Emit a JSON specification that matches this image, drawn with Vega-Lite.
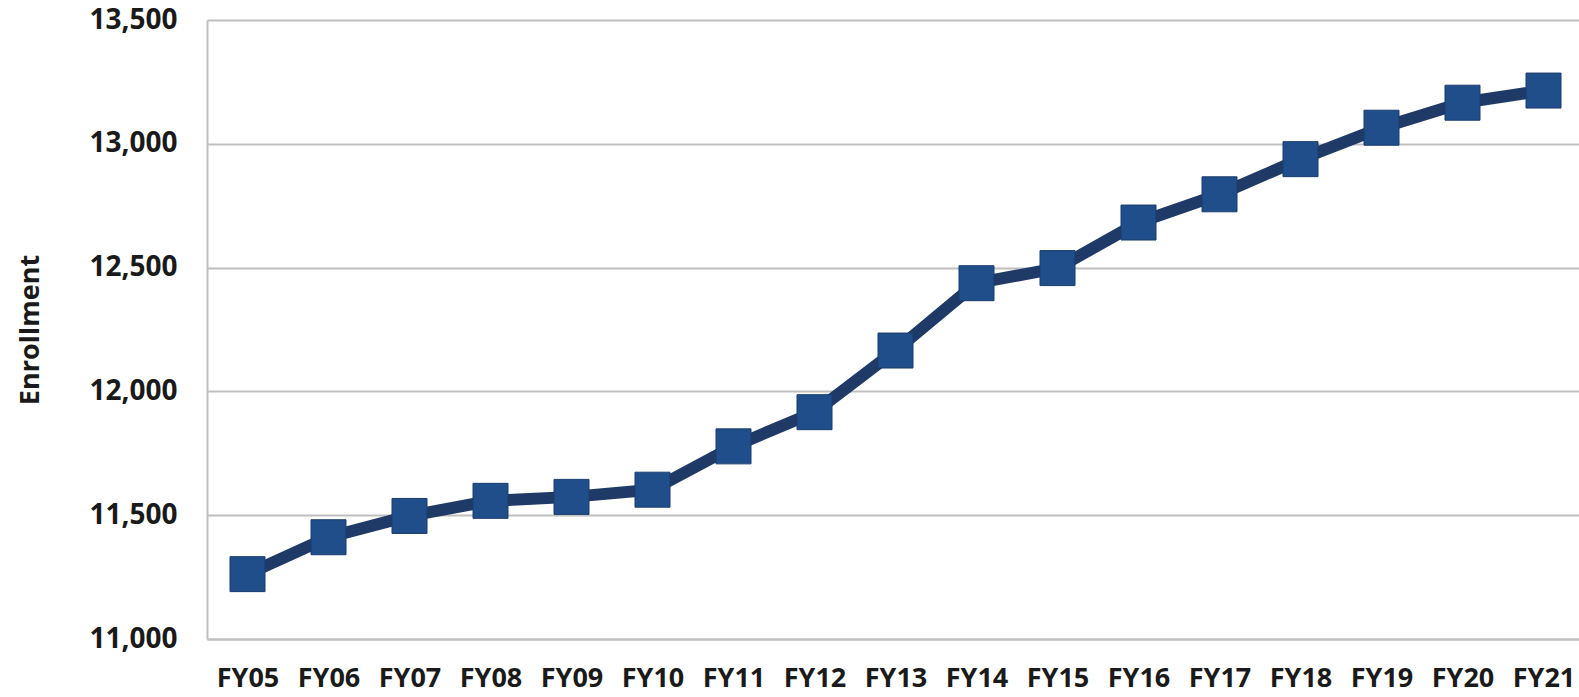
{
  "$schema": "https://vega.github.io/schema/vega-lite/v6.json",
  "autosize": {"type": "none"},
  "width": 1372,
  "height": 619,
  "padding": {"left": 207, "top": 20, "right": 0, "bottom": 58},
  "background": "white",
  "config": {
    "view": {"stroke": null},
    "font": "Open Sans"
  },
  "data": {
    "values": [
      {"year": "FY05", "enrollment": 11262},
      {"year": "FY06", "enrollment": 11411},
      {"year": "FY07", "enrollment": 11497},
      {"year": "FY08", "enrollment": 11558},
      {"year": "FY09", "enrollment": 11574},
      {"year": "FY10", "enrollment": 11603},
      {"year": "FY11", "enrollment": 11778},
      {"year": "FY12", "enrollment": 11916},
      {"year": "FY13", "enrollment": 12165},
      {"year": "FY14", "enrollment": 12437},
      {"year": "FY15", "enrollment": 12498},
      {"year": "FY16", "enrollment": 12682},
      {"year": "FY17", "enrollment": 12796},
      {"year": "FY18", "enrollment": 12938},
      {"year": "FY19", "enrollment": 13065},
      {"year": "FY20", "enrollment": 13166},
      {"year": "FY21", "enrollment": 13215}
    ]
  },
  "encoding": {
    "x": {
      "field": "year",
      "type": "ordinal",
      "scale": {"paddingInner": 0, "paddingOuter": 0, "range": [0, 1377]},
      "axis": {
        "title": null,
        "labelAngle": 0,
        "labelFont": "Open Sans",
        "labelFontWeight": "bold",
        "labelFontSize": 27,
        "labelColor": "#1a1a1a",
        "labelPadding": 26,
        "ticks": false,
        "domain": true,
        "domainColor": "#BFBFBF",
        "domainWidth": 2,
        "grid": false
      }
    },
    "y": {
      "field": "enrollment",
      "type": "quantitative",
      "scale": {"domain": [11000, 13500], "nice": false, "zero": false},
      "axis": {
        "title": "Enrollment",
        "titleFont": "Open Sans",
        "titleFontWeight": "bold",
        "titleFontSize": 27,
        "titleColor": "#1a1a1a",
        "titlePadding": 44,
        "values": [11000, 11500, 12000, 12500, 13000, 13500],
        "format": ",d",
        "labelFont": "Open Sans",
        "labelFontWeight": "bold",
        "labelFontSize": 28,
        "labelColor": "#1a1a1a",
        "labelPadding": 30,
        "ticks": false,
        "domain": true,
        "domainColor": "#BFBFBF",
        "domainWidth": 2,
        "grid": true,
        "gridColor": "#BFBFBF",
        "gridWidth": 2
      }
    }
  },
  "layer": [
    {
      "mark": {"type": "line", "color": "#1F3A66", "strokeWidth": 12}
    },
    {
      "mark": {"type": "point", "shape": "square", "filled": true, "size": 1225, "color": "#1F4E8A", "opacity": 1, "stroke": "#1B3D6E", "strokeWidth": 1}
    }
  ]
}
